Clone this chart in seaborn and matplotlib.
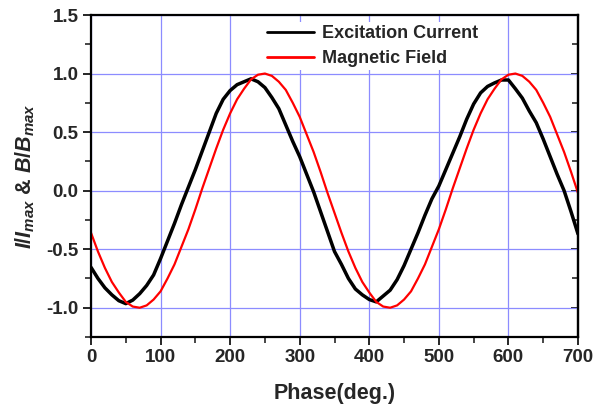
import numpy as np
import pandas as pd
import matplotlib
matplotlib.use("Agg")
import matplotlib.pyplot as plt
import seaborn as sns
from matplotlib.ticker import MultipleLocator

# ---- data ----
phase = list(range(0, 701, 10))
excitation_current = [
    -0.655, -0.75, -0.83, -0.89, -0.94, -0.965, -0.935, -0.88, -0.81, -0.72,
    -0.58, -0.43, -0.28, -0.12, 0.03, 0.18, 0.34, 0.50, 0.66, 0.78,
    0.855, 0.905, 0.93, 0.955, 0.93, 0.88, 0.795, 0.70, 0.56, 0.42,
    0.29, 0.14, -0.01, -0.18, -0.35, -0.52, -0.63, -0.75, -0.84, -0.89,
    -0.93, -0.95, -0.90, -0.85, -0.76, -0.64, -0.50, -0.36, -0.21, -0.07,
    0.04, 0.18, 0.32, 0.46, 0.61, 0.74, 0.835, 0.89, 0.92, 0.945,
    0.945, 0.87, 0.79, 0.68, 0.58, 0.44, 0.29, 0.14, 0.00, -0.18,
    -0.37,
]
magnetic_field = [
    -0.36, -0.52, -0.66, -0.78, -0.87, -0.95, -0.99, -1.00, -0.98, -0.93,
    -0.86, -0.75, -0.63, -0.48, -0.33, -0.16, 0.02, 0.19, 0.36, 0.52,
    0.66, 0.78, 0.87, 0.95, 0.99, 1.00, 0.98, 0.93, 0.86, 0.75,
    0.63, 0.48, 0.33, 0.16, -0.02, -0.19, -0.36, -0.52, -0.66, -0.78,
    -0.87, -0.95, -0.99, -1.00, -0.98, -0.93, -0.86, -0.75, -0.63, -0.48,
    -0.33, -0.16, 0.02, 0.19, 0.36, 0.52, 0.66, 0.78, 0.87, 0.95,
    0.99, 1.00, 0.98, 0.93, 0.86, 0.75, 0.63, 0.48, 0.33, 0.16,
    -0.02,
]
series_names = ["Excitation Current", "Magnetic Field"]
series_colors = ["#000000", "#ff0000"]

df = pd.DataFrame({
    "Phase": phase * 2,
    "Value": excitation_current + magnetic_field,
    "Series": [series_names[0]] * len(phase) + [series_names[1]] * len(phase),
})

sns.set_style("ticks")
plt.rcParams["font.family"] = ["Liberation Sans", "DejaVu Sans"]
plt.rcParams["mathtext.fontset"] = "custom"
plt.rcParams["mathtext.it"] = "Liberation Sans:bold:italic"
plt.rcParams["mathtext.rm"] = "Liberation Sans:bold"
plt.rcParams["mathtext.bf"] = "Liberation Sans:bold"

fig = plt.figure(figsize=(5.95, 4.08), dpi=100)
ax = fig.add_axes([91 / 595, 71 / 408, 487 / 595, 322 / 408])

sns.lineplot(data=df, x="Phase", y="Value", hue="Series",
             palette=dict(zip(series_names, series_colors)),
             linewidth=2.0, ax=ax, sort=False)
ax.lines[0].set_linewidth(2.5)
ax.lines[0].set_solid_joinstyle("round")
ax.lines[1].set_linewidth(1.6)

ax.set_xlim(0, 700)
ax.set_ylim(-1.25, 1.5)
ax.xaxis.set_major_locator(MultipleLocator(100))
ax.xaxis.set_minor_locator(MultipleLocator(50))
ax.yaxis.set_major_locator(MultipleLocator(0.5))
ax.yaxis.set_minor_locator(MultipleLocator(0.25))
ax.yaxis.set_major_formatter(matplotlib.ticker.FormatStrFormatter("%.1f"))

ax.grid(True, which="major", color="#8c8cff", linewidth=0.9)
ax.set_axisbelow(True)

for s in ax.spines.values():
    s.set_visible(True)
    s.set_linewidth(1.6)
    s.set_color("black")

ax.tick_params(axis="both", which="major", direction="out", length=6, width=1.4,
               labelsize=13.5, pad=3)
ax.tick_params(axis="both", which="minor", direction="out", length=4, width=1.2)
for lab in ax.get_xticklabels() + ax.get_yticklabels():
    lab.set_fontweight("bold")

axr = ax.secondary_yaxis("right")
axr.yaxis.set_major_locator(MultipleLocator(0.5))
axr.yaxis.set_minor_locator(MultipleLocator(0.25))
axr.tick_params(axis="y", which="major", direction="in", length=5, width=1.4, labelright=False)
axr.tick_params(axis="y", which="minor", direction="in", length=4, width=1.2, labelright=False)
axr.spines["right"].set_linewidth(1.6)

ax.set_xlabel("Phase(deg.)", fontsize=15.5, fontweight="bold", labelpad=12)
ax.set_ylabel(r"$I/I_{max}$ & $B/B_{max}$", fontsize=15.5, fontweight="bold", labelpad=7)

leg = ax.legend(loc="upper left", bbox_to_anchor=(0.338, 1.005), frameon=True,
                facecolor="white", edgecolor="none", framealpha=1.0,
                handlelength=2.6, handletextpad=0.4, borderpad=0.15,
                labelspacing=0.45, prop={"weight": "bold", "size": 13})
leg.get_frame().set_boxstyle("square", pad=0.0)
leg.set_zorder(1.5)

fig.savefig("out.png", dpi=100)
